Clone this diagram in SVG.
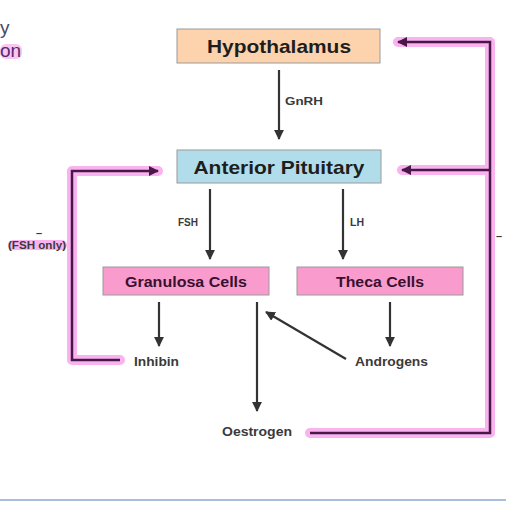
<svg xmlns="http://www.w3.org/2000/svg" width="506" height="508" viewBox="0 0 506 508">
<defs>
<marker id="ah" viewBox="0 0 10 10" refX="9" refY="5" markerWidth="4.5" markerHeight="4.5" orient="auto-start-reverse" markerUnits="strokeWidth">
<path d="M0,0 L10,5 L0,10 z" fill="#333"/>
</marker>
<marker id="ph" viewBox="0 0 10 10" refX="9" refY="5" markerWidth="4" markerHeight="4" orient="auto" markerUnits="strokeWidth">
<path d="M0,0 L10,5 L0,10 z" fill="#4a1848"/>
</marker>
</defs>
<style>
.box{stroke:#9a9a9a;stroke-width:1}
.big{font-family:"Liberation Sans",Arial,sans-serif;font-weight:bold;font-size:18.5px;fill:#1e1e1e;text-anchor:middle}
.mid{font-family:"Liberation Sans",Arial,sans-serif;font-weight:bold;font-size:15px;fill:#3a1030;text-anchor:middle}
.sm{font-family:"Liberation Sans",Arial,sans-serif;font-weight:bold;font-size:12px;fill:#3a3a3a}
.xs{font-family:"Liberation Sans",Arial,sans-serif;font-weight:bold;font-size:11px;fill:#3a3a3a}
.arr{stroke:#333;stroke-width:2.2;fill:none;marker-end:url(#ah)}
.hl{stroke:#f9b3ef;stroke-width:10;fill:none;stroke-linecap:round;stroke-linejoin:round}
.pl{stroke:#4a1848;stroke-width:2.5;fill:none}
</style>
<rect width="506" height="508" fill="#fff"/>
<g id="corner">
<rect x="0" y="44" width="22" height="15" rx="6" fill="#f9c6f0"/>
<text x="0" y="34" font-family="Liberation Sans,Arial,sans-serif" font-size="19" fill="#4a4a68">y</text>
<text x="0" y="57" font-family="Liberation Sans,Arial,sans-serif" font-size="19" fill="#5a2a70">on</text>
</g>
<g id="highlights">
<path class="hl" d="M158,171 L72,171 L72,360 L120,360"/>
<rect x="8" y="240" width="59" height="10" rx="5" fill="#f9b3ef"/>
<path class="hl" d="M398,42 L490,42 L490,433 L310,433"/>
<path class="hl" d="M402,170 L490,170"/>
</g>
<g id="hypothalamus">
<rect class="box" x="177" y="29" width="203" height="34" fill="#fcd3ad"/>
<text class="big" x="279" y="53" textLength="144" lengthAdjust="spacingAndGlyphs">Hypothalamus</text>
</g>
<g id="anterior-pituitary">
<rect class="box" x="177" y="150" width="204" height="33" fill="#b0dde9"/>
<text class="big" x="279" y="174" textLength="171" lengthAdjust="spacingAndGlyphs">Anterior Pituitary</text>
</g>
<g id="granulosa">
<rect class="box" x="103" y="267" width="166" height="28" fill="#f99ccd"/>
<text class="mid" x="186" y="287" textLength="122" lengthAdjust="spacingAndGlyphs">Granulosa Cells</text>
</g>
<g id="theca">
<rect class="box" x="297" y="267" width="166" height="28" fill="#f99ccd"/>
<text class="mid" x="380" y="287" textLength="88" lengthAdjust="spacingAndGlyphs">Theca Cells</text>
</g>
<g id="inhibin"><text class="sm" x="134" y="366" textLength="45" lengthAdjust="spacingAndGlyphs">Inhibin</text></g>
<g id="oestrogen"><text class="sm" x="222" y="436" textLength="70" lengthAdjust="spacingAndGlyphs">Oestrogen</text></g>
<g id="androgens"><text class="sm" x="355" y="366" textLength="73" lengthAdjust="spacingAndGlyphs">Androgens</text></g>
<g id="connectors">
<line class="arr" x1="279" y1="70" x2="279" y2="139"/>
<text class="xs" x="285" y="105" textLength="38" lengthAdjust="spacingAndGlyphs">GnRH</text>
<line class="arr" x1="210" y1="189" x2="210" y2="259"/>
<text class="xs" x="178" y="226" textLength="20" lengthAdjust="spacingAndGlyphs">FSH</text>
<line class="arr" x1="343" y1="189" x2="343" y2="259"/>
<text class="xs" x="350" y="226" textLength="14" lengthAdjust="spacingAndGlyphs">LH</text>
<line class="arr" x1="159" y1="302" x2="159" y2="346"/>
<line class="arr" x1="257" y1="302" x2="257" y2="411"/>
<line class="arr" x1="390" y1="302" x2="390" y2="346"/>
<line class="arr" x1="346" y1="359" x2="266" y2="312"/>
<path class="pl" d="M120,360 L72,360 L72,171 L158,171" marker-end="url(#ph)"/>
<path class="pl" d="M310,433 L490,433 L490,42 L398,42" marker-end="url(#ph)"/>
<path class="pl" d="M490,170 L402,170" marker-end="url(#ph)"/>
</g>
<g id="labels">
<text class="xs" x="36" y="237">–</text>
<text class="xs" x="8" y="249" font-size="8.5" textLength="58" lengthAdjust="spacingAndGlyphs">(FSH only)</text>
<text class="xs" x="496" y="240">–</text>
</g>
<line x1="0" y1="500" x2="506" y2="500" stroke="#a9bfdd" stroke-width="2"/>
</svg>
